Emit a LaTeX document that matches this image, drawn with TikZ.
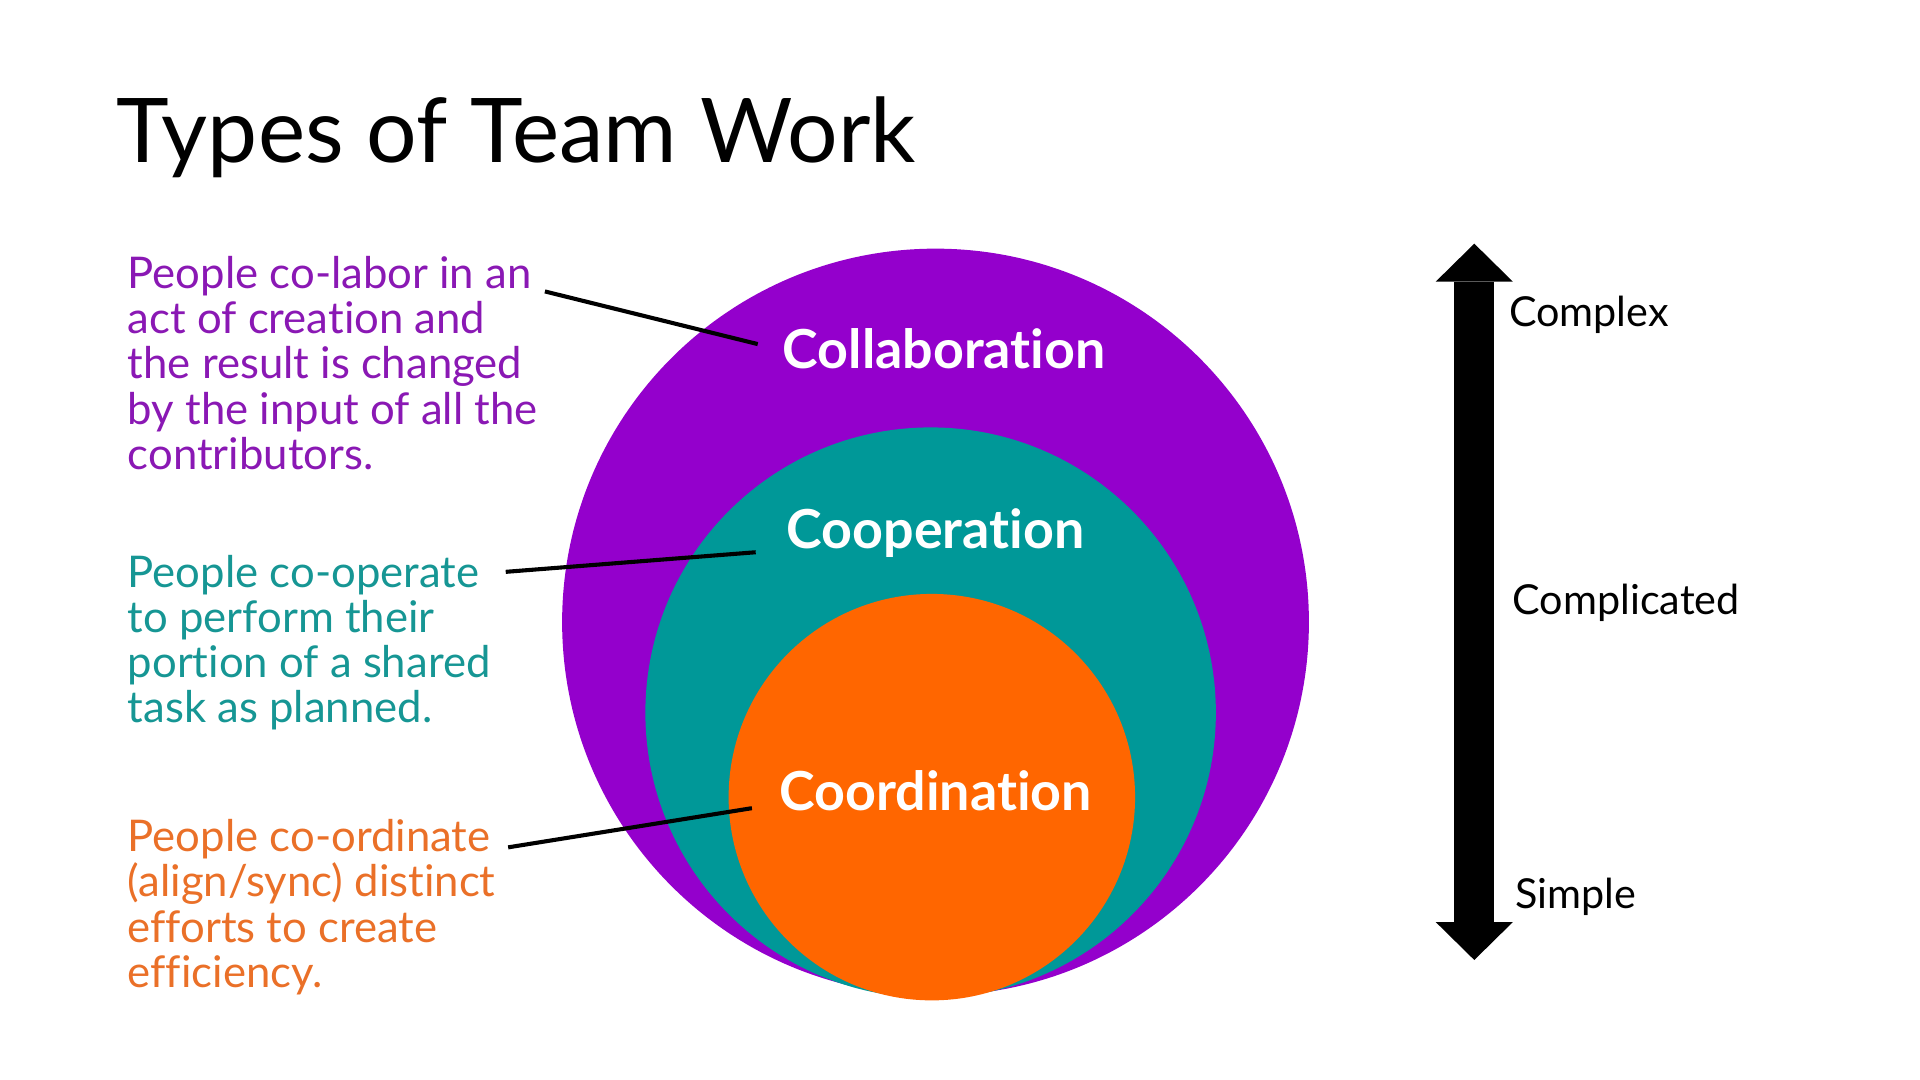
\documentclass[tikz,border=0pt]{standalone}
\usepackage{fontspec}
\setmainfont{Lato}[Ligatures=NoCommon]
\usetikzlibrary{arrows.meta}
\definecolor{collabpurple}{RGB}{148,0,204}
\definecolor{coopteal}{RGB}{0,152,152}
\definecolor{coordorange}{RGB}{255,102,0}
\definecolor{collabtext}{RGB}{138,24,180}
\definecolor{cooptext}{RGB}{22,150,148}
\definecolor{coordtext}{RGB}{234,112,40}

\begin{document}
\begin{tikzpicture}[x=0.02cm, y=-0.02cm, >=Stealth,
  every node/.style={inner sep=0pt},
  ring/.style={circle, minimum size=#1},
  ringlabel/.style={anchor=base, text=white, font=\fontsize{25}{28}\selectfont\bfseries},
  blurb/.style={align=left, anchor=north west, font=\fontsize{20.3}{21}\selectfont},
  scalelabel/.style={anchor=base west, font=\fontsize{19.2}{22}\selectfont},
  leader/.style={line width=1.9pt}]

  \useasboundingbox (0,0) rectangle (1568,882);

  % Title
  \node[anchor=base west, font=\fontsize{41.5}{48}\selectfont] (title) at (95,133) {Types of Team Work};

  % Nested circles
  \node[ring=12.2cm, fill=collabpurple] (outer) at (764,508) {};
  \node[ring=9.32cm, fill=coopteal] (middle) at (760,582) {};
  \node[ring=6.64cm, fill=coordorange] (inner) at (761,651) {};

  % Circle labels
  \node[ringlabel] (collab) at (771,301) {Collaboration};
  \node[ringlabel] (coop) at (764,448) {Cooperation};
  \node[ringlabel] (coord) at (764,662) {Coordination};

  % Descriptions
  \node[blurb, text=collabtext] (collabtext) at (104,209) {People co-labor in an\\act of creation and\\the result is changed\\by the input of all the\\contributors.};
  \node[blurb, text=cooptext] (cooptext) at (104,453) {People co-operate\\to perform their\\portion of a shared\\task as planned.};
  \node[blurb, text=coordtext] (coordtext) at (104,669) {People co-ordinate\\(align/sync) distinct\\efforts to create\\efficiency.};

  % Leader lines
  \coordinate (collabfoot) at (445,238);
  \coordinate (coopfoot) at (413,467);
  \coordinate (coordfoot) at (415,692);
  \draw[leader] (collabfoot) -- ([xshift=-0.4cm, yshift=0.4cm]collab.base west);
  \draw[leader] (coopfoot) -- ([xshift=-0.5cm, yshift=-0.06cm]coop.base west);
  \draw[leader] (coordfoot) -- ([xshift=-0.44cm, yshift=0.04cm]coord.base west);

  % Scale arrow
  \coordinate (top) at (1204,199);
  \coordinate (bottom) at (1204,784);
  \draw[line width=0.654cm, {Triangle[length=0.62cm, width=1.26cm, line width=0pt]}-{Triangle[length=0.62cm, width=1.26cm, line width=0pt]}] (top) -- (bottom);

  \node[scalelabel] (complex) at (1232,267) {Complex};
  \node[scalelabel] (complicated) at (1235,502) {Complicated};
  \node[scalelabel] (simple) at (1237,742) {Simple};

\end{tikzpicture}
\end{document}
